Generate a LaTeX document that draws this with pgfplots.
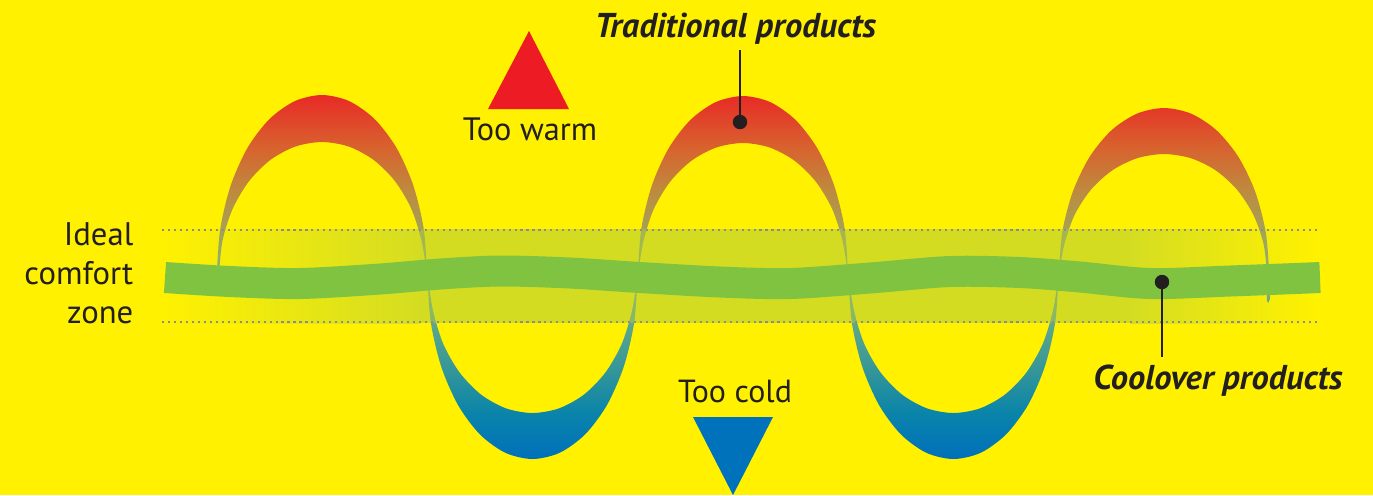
\documentclass[border=0pt]{standalone}
\usepackage{pgfplots}
\pgfplotsset{compat=1.18}
\usepackage{fontspec}
\setmainfont{PT Sans}
\definecolor{bg}{RGB}{255,241,0}
\definecolor{zone}{RGB}{213,221,34}
\definecolor{zoneov}{RGB}{171,200,68}
\definecolor{band}{RGB}{128,195,65}
\definecolor{txt}{RGB}{35,31,32}
\definecolor{warm}{RGB}{237,28,36}
\definecolor{cold}{RGB}{0,114,188}
\definecolor{dots}{RGB}{140,140,140}
\definecolor{wA}{RGB}{232,42,38}
\definecolor{wB}{RGB}{216,98,46}
\definecolor{wC}{RGB}{190,138,62}
\definecolor{wD}{RGB}{165,162,85}
\definecolor{wE}{RGB}{140,175,115}
\definecolor{wF}{RGB}{98,168,138}
\definecolor{wG}{RGB}{52,150,152}
\definecolor{wH}{RGB}{10,132,170}
\definecolor{wI}{RGB}{0,112,186}
\pgfdeclareverticalshading{wave}{100bp}{color(0bp)=(wI); color(25bp)=(wI); color(31.32bp)=(wH); color(37.23bp)=(wG); color(44.09bp)=(wF); color(50.96bp)=(wE); color(56.46bp)=(wD); color(61.95bp)=(wC); color(67.86bp)=(wB); color(75bp)=(wA); color(100bp)=(wA)}
\begin{document}
\begin{tikzpicture}
\begin{axis}[scale only axis, width=137.3mm, height=49.5mm,
  xmin=0, xmax=1373, ymin=0, ymax=495, y dir=reverse, hide axis, clip=true]
% background
\addplot[fill=bg, draw=none] coordinates {(0,0) (1373,0) (1373,495) (0,495)};
% comfort zone fades (opaque)
\addplot[draw=none, left color=bg, right color=zone] coordinates {(162,229) (420,229) (420,323) (162,323)};
\addplot[draw=none, left color=zone, right color=bg] coordinates {(1130,229) (1318,229) (1318,323) (1130,323)};
% traditional products wave
\addplot[draw=none, shade, shading=wave, smooth] coordinates {
(216.75,290) (216.75,275) (220.34,228.42) (230.85,185) (247.58,147.72) (269.37,119.12) (294.76,101.14) (322,95) (349.24,101.14) (374.63,119.12) (396.42,147.72) (413.15,185) (423.66,228.42) (427.25,275)
(430.84,322.62) (441.35,367) (458.08,405.11) (479.87,434.34) (505.26,452.73) (532.5,459) (559.74,452.73) (585.13,434.34) (606.92,405.11) (623.65,367) (634.16,322.62) (637.75,275)
(641.34,228.67) (651.85,185.5) (668.58,148.43) (690.37,119.99) (715.76,102.10) (743,96) (770.24,102.10) (795.63,119.99) (817.42,148.43) (834.15,185.5) (844.66,228.67) (848.25,275)
(851.84,322.62) (862.35,367) (879.08,405.11) (900.87,434.34) (926.26,452.73) (953.5,459) (980.74,452.73) (1006.13,434.34) (1027.92,405.11) (1044.65,367) (1055.16,322.62) (1058.75,275)
(1062.34,231.78) (1072.85,191.5) (1089.58,156.91) (1111.37,130.38) (1136.76,113.70) (1164,108) (1191.24,113.70) (1216.63,130.38) (1238.42,156.91) (1255.15,191.5) (1265.66,231.78) (1269.25,275) (1269.25,300)
(1267,300) (1267,275) (1263.49,243.69) (1253.20,214.5) (1236.83,189.44) (1215.5,170.21) (1190.66,158.13) (1164,154) (1137.34,158.13) (1112.5,170.21) (1091.17,189.44) (1074.80,214.5) (1064.51,243.69) (1058.75,275)
(1052.99,310.71) (1042.70,344) (1026.33,372.58) (1005,394.51) (980.16,408.29) (953.5,413) (926.84,408.29) (902,394.51) (880.67,372.58) (864.30,344) (854.01,310.71) (848.25,275)
(842.49,240.84) (832.20,209) (815.83,181.66) (794.5,160.69) (769.66,147.50) (743,143) (716.34,147.50) (691.5,160.69) (670.17,181.66) (653.80,209) (643.51,240.84) (637.75,275)
(631.99,310.71) (621.70,344) (605.33,372.58) (584,394.51) (559.16,408.29) (532.5,413) (505.84,408.29) (481,394.51) (459.67,372.58) (443.30,344) (433.01,310.71) (427.25,275)
(421.49,240.58) (411.20,208.5) (394.83,180.96) (373.5,159.82) (348.66,146.53) (322,142) (295.34,146.53) (270.5,159.82) (249.17,180.96) (232.80,208.5) (222.51,240.58) (219,275) (219,290)
};
% comfort zone middle (translucent)
\addplot[draw=none, fill=zoneov, fill opacity=0.5] coordinates {(420,229) (1130,229) (1130,323) (420,323)};
% dotted limits
\addplot[draw=dots, line width=0.55pt, dash pattern=on 0.6pt off 1.1pt] coordinates {(162,230) (1318,230)};
\addplot[draw=dots, line width=0.55pt, dash pattern=on 0.6pt off 1.1pt] coordinates {(162,322) (1318,322)};
% coolover band
\addplot[draw=band, line width=8.82pt, smooth, line cap=butt] coordinates {
(165,277.5) (230,281.5) (300,283.5) (380,279) (440,274) (500,271) (570,273) (640,277.5) (720,282) (790,283.5) (870,278) (950,271.5) (1020,272.5) (1080,277) (1150,283.5) (1230,281) (1320,277.5)};
% triangles
\addplot[fill=warm, draw=none] coordinates {(488,109) (529,31) (569,109)};
\addplot[fill=cold, draw=none] coordinates {(693,417) (773,417) (733,495)};
% callouts
\addplot[draw=txt, line width=0.8pt] coordinates {(740,50) (740,122)};
\addplot[only marks, mark=*, mark size=1.85pt, color=txt] coordinates {(740,122)};
\addplot[draw=txt, line width=0.8pt] coordinates {(1162,282) (1162,357)};
\addplot[only marks, mark=*, mark size=1.85pt, color=txt] coordinates {(1162,282)};
% texts
\node[anchor=base, inner sep=0pt, text=txt, font=\fontsize{9.2}{11}\selectfont] at (axis cs:530,140) {Too warm};
\node[anchor=base, inner sep=0pt, text=txt, font=\fontsize{9.1}{11}\selectfont] at (axis cs:735,402) {Too cold};
\node[anchor=base, inner sep=0pt, text=txt, font=\fontsize{9.8}{11}\selectfont\bfseries\itshape] at (axis cs:735.5,37) {Traditional products};
\node[anchor=base, inner sep=0pt, text=txt, font=\fontsize{9.8}{11}\selectfont\bfseries\itshape] at (axis cs:1218,389) {Coolover products};
\node[anchor=base east, inner sep=0pt, text=txt, font=\fontsize{9.3}{11}\selectfont] at (axis cs:134,245) {Ideal};
\node[anchor=base east, inner sep=0pt, text=txt, font=\fontsize{9.3}{11}\selectfont] at (axis cs:134,284) {comfort};
\node[anchor=base east, inner sep=0pt, text=txt, font=\fontsize{9.3}{11}\selectfont] at (axis cs:134,323) {zone};
\end{axis}
\end{tikzpicture}
\end{document}
